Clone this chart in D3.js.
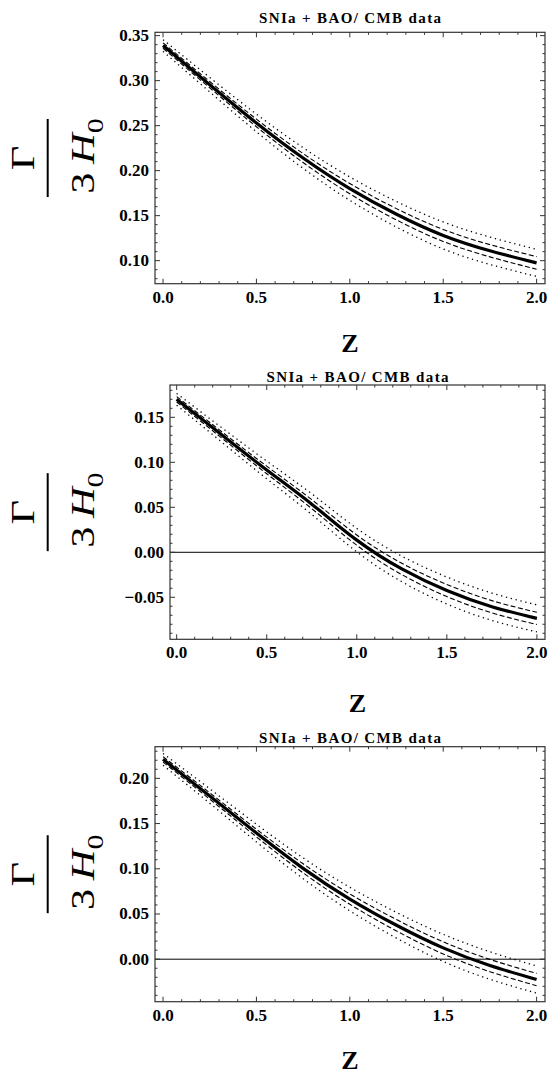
<!DOCTYPE html>
<html>
<head>
<meta charset="utf-8">
<script src="https://cdn.jsdelivr.net/npm/d3@7"></script>
<style>
  body { margin: 0; background: #fff; }
  svg { display: block; }
  text { font-family: "Liberation Serif", "Times New Roman", serif; }
</style>
</head>
<body>
<div id="chart"></div>
<script>
// values, z = 0 .. 2 in steps of 0.25
const zValues = [0, 0.25, 0.5, 0.75, 1.0, 1.25, 1.5, 1.75, 2.0];

// panel 1
const p1Central     = [0.339, 0.2955, 0.253, 0.214, 0.180, 0.1515, 0.128, 0.111, 0.0975];
const p1DashedUp    = [0.342, 0.299, 0.2572, 0.219, 0.1857, 0.1578, 0.1347, 0.1178, 0.1045];
const p1DashedLow   = [0.336, 0.292, 0.2488, 0.209, 0.1743, 0.1452, 0.1213, 0.1042, 0.0905];
const p1DottedUp    = [0.3455, 0.3035, 0.2628, 0.2255, 0.193, 0.1657, 0.143, 0.1262, 0.1125];
const p1DottedLow   = [0.3325, 0.2875, 0.2432, 0.2025, 0.167, 0.1373, 0.113, 0.0958, 0.0825];

// panel 2
const p2Central     = [0.170, 0.1305, 0.0915, 0.0535, 0.0135, -0.0185, -0.0425, -0.0605, -0.0735];
const p2DashedUp    = [0.173, 0.134, 0.0957, 0.0585, 0.0192, -0.0122, -0.0358, -0.0537, -0.0667];
const p2DashedLow   = [0.167, 0.127, 0.0873, 0.0485, 0.0078, -0.0248, -0.0492, -0.0673, -0.0803];
const p2DottedUp    = [0.1765, 0.1385, 0.1013, 0.065, 0.0265, -0.0043, -0.0275, -0.0453, -0.0585];
const p2DottedLow   = [0.1635, 0.1225, 0.0817, 0.042, 0.0005, -0.0327, -0.0575, -0.0757, -0.0885];

// panel 3
const p3Central     = [0.221, 0.1805, 0.1395, 0.1005, 0.0665, 0.0375, 0.0125, -0.007, -0.0225];
const p3DashedUp    = [0.224, 0.184, 0.1437, 0.1055, 0.0722, 0.0438, 0.0192, -0.0002, -0.0157];
const p3DashedLow   = [0.218, 0.177, 0.1353, 0.0955, 0.0608, 0.0312, 0.0058, -0.0138, -0.0293];
const p3DottedUp    = [0.2275, 0.1885, 0.1493, 0.112, 0.0795, 0.0517, 0.0275, 0.0082, -0.0075];
const p3DottedLow   = [0.2145, 0.1725, 0.1297, 0.089, 0.0535, 0.0233, -0.0025, -0.0222, -0.0375];

// tick labels
const xTickValues = [0, 0.5, 1.0, 1.5, 2.0];
const p1YTicks = [0.10, 0.15, 0.20, 0.25, 0.30, 0.35];
const p2YTicks = [-0.05, 0.00, 0.05, 0.10, 0.15];
const p3YTicks = [0.00, 0.05, 0.10, 0.15, 0.20];

const titleText = "SNIa + BAO/ CMB data";
const xLabelText = "Z";

const width = 549;
const height = 1074;

const svg = d3.select("#chart")
  .append("svg")
  .attr("width", width)
  .attr("height", height);

// layout for each panel
const panels = [
  {left: 155, right: 545, top: 32.3, bottom: 283.7, xDomain: [-0.043, 2.045], yDomain: [0.0744, 0.3537],
    yTicks: p1YTicks, zero: false, titleY: 22.7, zY: 352,
    central: p1Central, dashed: [p1DashedUp, p1DashedLow], dotted: [p1DottedUp, p1DottedLow]},
  {left: 170, right: 545, top: 385, bottom: 639.3, xDomain: [-0.037, 2.045], yDomain: [-0.0967, 0.1859],
    yTicks: p2YTicks, zero: true, titleY: 381.7, zY: 712,
    central: p2Central, dashed: [p2DashedUp, p2DashedLow], dotted: [p2DottedUp, p2DottedLow]},
  {left: 155, right: 545, top: 746.7, bottom: 1001.7, xDomain: [-0.043, 2.045], yDomain: [-0.047, 0.235],
    yTicks: p3YTicks, zero: true, titleY: 742.7, zY: 1069,
    central: p3Central, dashed: [p3DashedUp, p3DashedLow], dotted: [p3DottedUp, p3DottedLow]}
];

const fmtY = d3.format(".2f");
const fmtX = d3.format(".1f");

function drawPanel(p){
  const xScale = d3.scaleLinear().domain(p.xDomain).range([p.left, p.right]);
  const yScale = d3.scaleLinear().domain(p.yDomain).range([p.bottom, p.top]);

  const g = svg.append("g");

  //zero line
  if (p.zero) {
    g.append("line")
      .attr("x1", p.left).attr("x2", p.right)
      .attr("y1", yScale(0)).attr("y2", yScale(0))
      .attr("stroke", "#000")
      .attr("stroke-width", 1);
  }

  //curves
  const line = d3.line()
    .x((d,i)=>xScale(zValues[i]))
    .y((d)=>yScale(d))
    .curve(d3.curveNatural);

  p.dotted.forEach((s)=>{
    g.append("path")
      .attr("d", line(s))
      .attr("fill", "none")
      .attr("stroke", "#000")
      .attr("stroke-width", 1.3)
      .attr("stroke-dasharray", "1.3,3.7");
  });

  p.dashed.forEach((s)=>{
    g.append("path")
      .attr("d", line(s))
      .attr("fill", "none")
      .attr("stroke", "#000")
      .attr("stroke-width", 1.1)
      .attr("stroke-dasharray", "5,2.5");
  });

  g.append("path")
    .attr("d", line(p.central))
    .attr("fill", "none")
    .attr("stroke", "#000")
    .attr("stroke-width", 3.2);

  //frame
  g.append("rect")
    .attr("x", p.left).attr("y", p.top)
    .attr("width", p.right - p.left)
    .attr("height", p.bottom - p.top)
    .attr("fill", "none")
    .attr("stroke", "#333")
    .attr("stroke-width", 1.2);

  //x ticks (inward, bottom and top)
  const xMinor = d3.range(0, 21).map((i)=>i/10);
  xMinor.forEach((v,i)=>{
    const len = (i % 5 === 0) ? 5 : 2.5;
    const x = xScale(v);
    g.append("line").attr("x1", x).attr("x2", x).attr("y1", p.bottom).attr("y2", p.bottom - len)
      .attr("stroke", "#333").attr("stroke-width", 1);
    g.append("line").attr("x1", x).attr("x2", x).attr("y1", p.top).attr("y2", p.top + len)
      .attr("stroke", "#333").attr("stroke-width", 1);
  });

  //y ticks (inward, left and right)
  const lo = Math.ceil(p.yDomain[0] * 100 - 1e-6);
  const hi = Math.floor(p.yDomain[1] * 100 + 1e-6);
  d3.range(lo, hi + 1).forEach((i)=>{
    const len = (i % 5 === 0) ? 5 : 2.5;
    const y = yScale(i / 100);
    g.append("line").attr("x1", p.left).attr("x2", p.left + len).attr("y1", y).attr("y2", y)
      .attr("stroke", "#333").attr("stroke-width", 1);
    g.append("line").attr("x1", p.right).attr("x2", p.right - len).attr("y1", y).attr("y2", y)
      .attr("stroke", "#333").attr("stroke-width", 1);
  });

  //tick labels
  g.selectAll(".ylab")
    .data(p.yTicks)
    .enter()
    .append("text")
    .attr("x", p.left - 6)
    .attr("y", (d)=>yScale(d) + 5.5)
    .attr("text-anchor", "end")
    .attr("font-size", 17)
    .attr("font-weight", "bold")
    .text((d)=>fmtY(d));

  g.selectAll(".xlab")
    .data(xTickValues)
    .enter()
    .append("text")
    .attr("x", (d)=>xScale(d))
    .attr("y", p.bottom + 19)
    .attr("text-anchor", "middle")
    .attr("font-size", 17)
    .attr("font-weight", "bold")
    .text((d)=>fmtX(d));

  //title
  const cx = (p.left + p.right) / 2;
  g.append("text")
    .attr("x", cx)
    .attr("y", p.titleY)
    .attr("text-anchor", "middle")
    .attr("font-size", 15)
    .attr("font-weight", "bold")
    .attr("textLength", 182)
    .attr("lengthAdjust", "spacing")
    .text(titleText);

  //x label
  g.append("text")
    .attr("x", cx)
    .attr("y", p.zY)
    .attr("text-anchor", "middle")
    .attr("font-size", 26)
    .attr("font-weight", "bold")
    .text(xLabelText);

  //y label: Gamma over 3 H_0, rotated
  const cy = (p.top + p.bottom) / 2;
  const lab = g.append("g")
    .attr("transform", `translate(47.7,${cy}) rotate(-90)`);

  lab.append("line")
    .attr("x1", -39).attr("x2", 39)
    .attr("y1", 0).attr("y2", 0)
    .attr("stroke", "#000")
    .attr("stroke-width", 2);

  lab.append("text")
    .attr("transform", "translate(0,-14) scale(1.25,1)")
    .attr("text-anchor", "middle")
    .attr("font-size", 34)
    .text("\u0393");

  const den = lab.append("text")
    .attr("transform", "translate(2,46) scale(1.25,1)")
    .attr("text-anchor", "middle")
    .attr("font-size", 34);
  den.append("tspan").text("3\u2009");
  den.append("tspan").attr("font-style", "italic").text("H");
  den.append("tspan").attr("font-size", 24).attr("dy", 9).text("0");
}

panels.forEach(drawPanel);
</script>
</body>
</html>
